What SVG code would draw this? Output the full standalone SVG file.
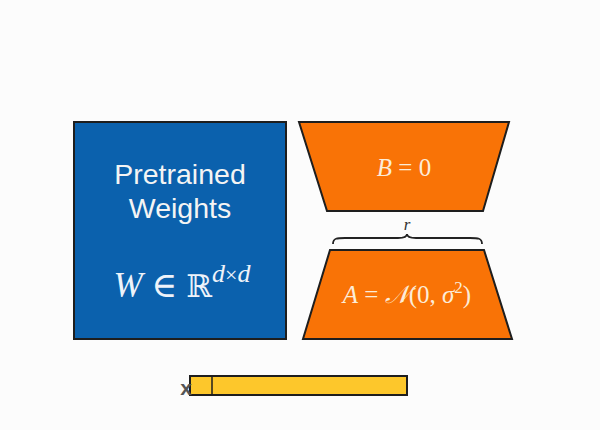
<svg xmlns="http://www.w3.org/2000/svg" width="600" height="430" viewBox="0 0 600 430">
<style>
.shape{stroke:#1e1e1e;stroke-width:2;stroke-linejoin:miter}
.sans{font-family:"Liberation Sans",Arial,sans-serif;fill:#f4f4f4}
.math{font-family:"Liberation Serif","DejaVu Serif",serif}
.it{font-style:italic}
</style>
<rect width="600" height="430" fill="#fcfcfc"/>
<g id="pretrained">
<rect class="shape" x="74" y="122" width="212" height="217" fill="#0b61ad"/>
<text class="sans" x="180" y="184" font-size="28.5" text-anchor="middle">Pretrained</text>
<text class="sans" x="180" y="218" font-size="28.5" text-anchor="middle">Weights</text>
<text class="math" x="182" y="297" font-size="35" text-anchor="middle" fill="#eef3fa"><tspan class="it">W</tspan> ∈ <tspan font-family="DejaVu Serif,serif" font-size="31">ℝ</tspan><tspan class="it" font-size="26" dy="-15">d</tspan><tspan font-size="22">×</tspan><tspan class="it" font-size="26">d</tspan></text>
</g>
<g id="B">
<polygon class="shape" points="299,122 509,122 483,211 327,211" fill="#f97306"/>
<text class="math" x="404" y="176" font-size="25" text-anchor="middle" fill="#fcecd8"><tspan class="it">B</tspan> = 0</text>
</g>
<g id="A">
<polygon class="shape" points="330,250 484,250 512,339 303,339" fill="#f97306"/>
<text class="math" x="407" y="303" font-size="25" text-anchor="middle" fill="#fcecd8"><tspan class="it">A</tspan> = <tspan font-family="DejaVu Serif,serif" class="it">𝒩</tspan>(0, <tspan class="it">σ</tspan><tspan font-size="17" dy="-10">2</tspan><tspan dy="10">)</tspan></text>
</g>
<g id="brace">
<path d="M333,244 C333,238 337,238 345,238 L398,238 C404,238 407,237 407,234 C407,237 410,238 416,238 L470,238 C478,238 482,238 482,244" fill="none" stroke="#222" stroke-width="1.8"/>
<text class="math it" x="407" y="230" font-size="17" text-anchor="middle" fill="#333">r</text>
</g>
<g id="x-input">
<rect class="shape" x="190" y="376" width="217" height="19" fill="#fdc72b" stroke-width="1.5"/>
<line x1="212" y1="376" x2="212" y2="395" stroke="#1e1e1e" stroke-width="1.5"/>
<text x="186" y="395" font-size="21" font-weight="bold" font-family="Liberation Sans,Arial,sans-serif" fill="#555" text-anchor="middle">x</text>
</g>
</svg>
